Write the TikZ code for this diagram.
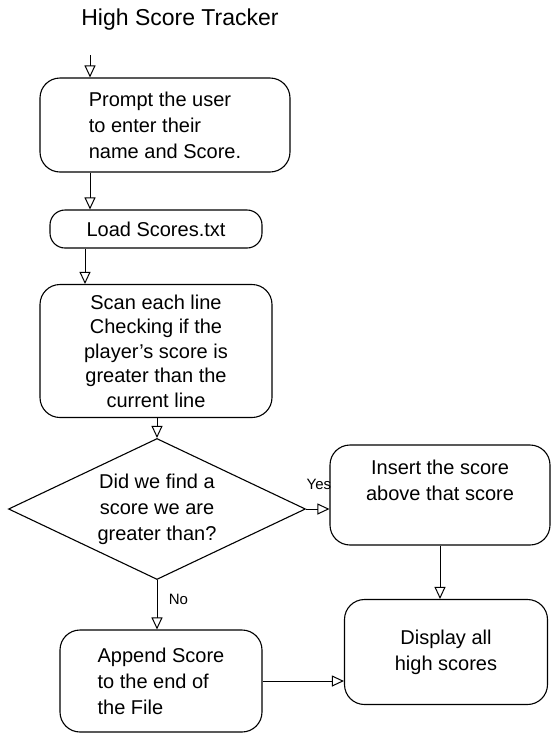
\documentclass[tikz,border=0pt]{standalone}
\usepackage{fontspec}
\setmainfont{Liberation Sans}
\usetikzlibrary{arrows.meta,shapes.geometric}
\begin{document}
\begin{tikzpicture}[x=1pt,y=1pt,
  every node/.style={font=\fontsize{20}{26}\selectfont},
  box/.style={draw, line width=1.1pt, rounded corners=20pt, align=center, inner sep=4pt},
  decision/.style={draw, line width=1.1pt, diamond, inner sep=0pt},
  flow/.style={draw, line width=1pt, -{Triangle[open,length=12pt,width=11pt]}},
  lbl/.style={font=\fontsize{15}{18}\selectfont}]
\useasboundingbox (0,0) rectangle (555,-740);
\node (title) at (180,-20) {\fontsize{23}{26}\selectfont High Score Tracker};
\coordinate (start) at (90,-55);
\node[box, minimum width=250pt, minimum height=94pt, align=left] (b1) at (165,-125)
  {Prompt the user\\to enter their\\name and Score.};
\node[box, minimum width=212pt, minimum height=38pt, rounded corners=15pt] (b2) at (156,-229)
  {Load Scores.txt};
\node[box, minimum width=232pt, minimum height=133pt, inner ysep=2pt,
  font=\fontsize{20}{24.5}\selectfont] (b3) at (156,-351)
  {Scan each line\\Checking if the\\player's score is\\greater than the\\current line};
\node[decision, minimum width=297pt, minimum height=141pt,
  label={[align=center]center:Did we find a\\score we are\\greater than?}] (d) at (157,-509) {};
\node[box, minimum width=220pt, minimum height=100pt, text depth=30pt] (b4) at (440,-495)
  {Insert the score\\above that score};
\node[box, minimum width=203pt, minimum height=105pt] (b5) at (446,-652)
  {Display all\\high scores};
\node[box, minimum width=202pt, minimum height=102pt, align=left] (b6) at (161,-681)
  {Append Score\\to the end of\\the File};
\draw[flow] (start) -- (start |- b1.north);
\draw[flow] ([xshift=-75pt]b1.south) -- ([xshift=-75pt]b1.south |- b2.north);
\draw[flow] ([xshift=-71pt]b2.south) -- ([xshift=-71pt]b2.south |- b3.north);
\draw[flow] (b3.south -| d.north) -- (d.north);
\draw[flow] (d.east) -- (d.east -| b4.west) node[lbl, pos=0.55, above=16pt] {Yes};
\draw[flow] (d.south) -- (d.south |- b6.north) node[lbl, pos=0.4, right=8pt] {No};
\draw[flow] (b4.south) -- (b4.south |- b5.north);
\draw[flow] (b6.east) -- (b6.east -| b5.west);
\end{tikzpicture}
\end{document}
